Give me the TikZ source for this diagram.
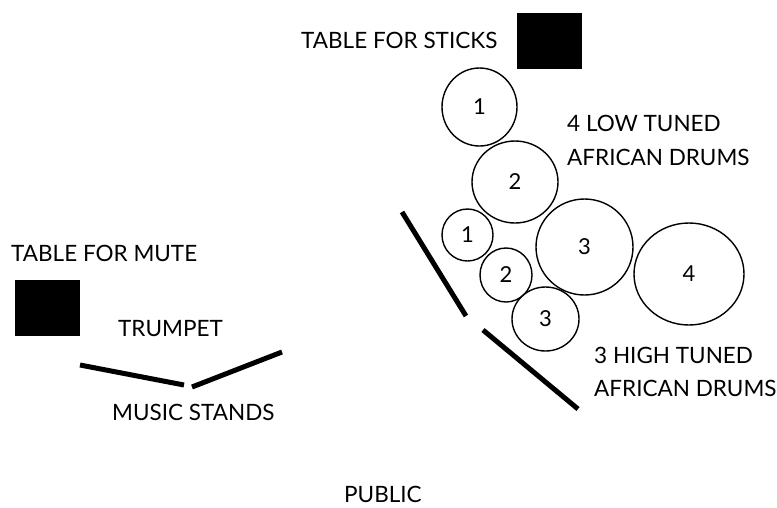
\documentclass[tikz,border=0pt]{standalone}
\usepackage{fontspec}
\setmainfont{Lato}
\usetikzlibrary{shapes.geometric}
\begin{document}
\begin{tikzpicture}[x=1pt,y=-1pt,
  lbl/.style={font=\fontsize{22.5}{34}\selectfont, inner sep=0pt, anchor=west},
  drum/.style={draw, ellipse, line width=1.4pt, inner sep=0pt, font=\fontsize{22}{24}\selectfont},
  table/.style={fill=black, draw=none, rectangle, inner sep=0pt},
  stand/.style={line width=5pt}]
\useasboundingbox (0,0) rectangle (777,507);
% tables
\node[table, minimum width=65pt, minimum height=56pt] (sticks) at (549.5,41) {};
\node[table, minimum width=65pt, minimum height=56pt] (mute) at (47.5,308) {};
% labels
\node[lbl] (tsticks) at (301,40) {TABLE FOR STICKS};
\node[lbl] (tmute) at (11,253) {TABLE FOR MUTE};
\node[lbl] (trumpet) at (118,329) {TRUMPET};
\node[lbl] (music) at (112,412) {MUSIC STANDS};
\node[lbl] (public) at (344,494) {PUBLIC};
\node[lbl] (low1) at (567,123) {4 LOW TUNED};
\node[lbl] (low2) at (567,157) {AFRICAN DRUMS};
\node[lbl] (high1) at (594,355) {3 HIGH TUNED};
\node[lbl] (high2) at (594,388) {AFRICAN DRUMS};
% low drums
\node[drum, minimum width=75pt, minimum height=78pt] (L1) at (479.5,107) {1};
\node[drum, minimum width=86pt, minimum height=82pt] (L2) at (515,182) {2};
\node[drum, minimum width=97pt, minimum height=96pt] (L3) at (584.5,247) {3};
\node[drum, minimum width=110pt, minimum height=102pt] (L4) at (689,274) {4};
% high drums
\node[drum, minimum width=51pt, minimum height=52pt] (H1) at (467.5,235) {1};
\node[drum, minimum width=52pt, minimum height=54pt] (H2) at (506,275) {2};
\node[drum, minimum width=67pt, minimum height=64pt] (H3) at (545.5,319) {3};
% stands
\coordinate (a1) at (402,212);
\coordinate (a2) at (466,316);
\coordinate (b1) at (483,330);
\coordinate (b2) at (578,409);
\coordinate (c1) at (80,365);
\coordinate (c2) at (184,385);
\coordinate (d1) at (192,387);
\coordinate (d2) at (282,352);
\draw[stand] (a1) -- (a2);
\draw[stand] (b1) -- (b2);
\draw[stand] (c1) -- (c2);
\draw[stand] (d1) -- (d2);
\end{tikzpicture}
\end{document}
